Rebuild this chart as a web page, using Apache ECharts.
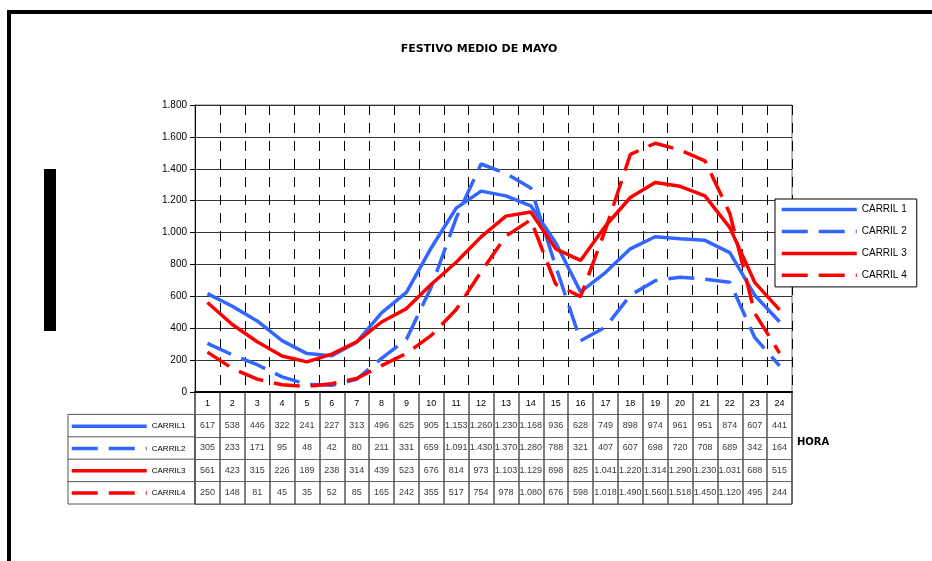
<!DOCTYPE html>
<html><head><meta charset="utf-8">
<script src="https://cdn.jsdelivr.net/npm/echarts@6/dist/echarts.min.js"></script>
<style>html,body{margin:0;padding:0;background:#fff}#c{width:932px;height:561px}</style>
</head><body><div id="c"></div>
<script>
// ---- data ----
const titleText = 'FESTIVO MEDIO DE MAYO';
const xAxisName = 'HORA';
const hours = ['1','2','3','4','5','6','7','8','9','10','11','12','13','14','15','16','17','18','19','20','21','22','23','24'];
const seriesNames = ['CARRIL 1','CARRIL 2','CARRIL 3','CARRIL 4'];
const carril1 = [617,538,446,322,241,227,313,496,625,905,1153,1260,1230,1168,936,628,749,898,974,961,951,874,607,441];
const carril2 = [305,233,171,95,48,42,80,211,331,659,1091,1430,1370,1280,788,321,407,607,698,720,708,689,342,164];
const carril3 = [561,423,315,226,189,238,314,439,523,676,814,973,1103,1129,898,825,1041,1220,1314,1290,1230,1031,688,515];
const carril4 = [250,148,81,45,35,52,85,165,242,355,517,754,978,1080,676,598,1018,1490,1560,1518,1450,1120,495,244];
const yMin = 0, yMax = 1800, yStep = 200;

// ---- helpers ----
const fmt = v => v >= 1000 ? Math.floor(v / 1000) + '.' + String(v % 1000).padStart(3, '0') : String(v);
const BLUE = '#3366FF', RED = '#FF0000';
const FONT = 'Liberation Sans, Arial, sans-serif';
const WIDEFONT = 'DejaVu Sans, sans-serif';
const allSeries = [carril1, carril2, carril3, carril4];
const colors = [BLUE, BLUE, RED, RED];
const dashed = [false, true, false, true];

const G = {left: 195, right: 140, top: 105, bottom: 169};
const tableTop = 392, tableH = 112;
const rowH = tableH / 5;

const chart = echarts.init(document.getElementById('c'), null, {renderer: 'canvas'});

const lineSeries = allSeries.map((d, k) => ({
  name: seriesNames[k], type: 'line', data: d, xAxisIndex: 0, yAxisIndex: 0,
  symbol: 'none', smooth: false, z: 5,
  lineStyle: {color: colors[k], width: 3.5, type: dashed[k] ? [26, 11] : 'solid', cap: 'butt'},
  itemStyle: {color: colors[k]}
}));

const tableSeries = allSeries.map((d, k) => ({
  name: 'tabla' + k, type: 'scatter', xAxisIndex: 1, yAxisIndex: 1, silent: true,
  symbolSize: 0, data: d.map((v, i) => [i, k + 1.5, v]),
  label: {show: true, position: 'inside', formatter: p => fmt(p.value[2]),
          fontSize: 9, color: '#000', fontFamily: FONT}
}));

const tableRowLines = [1, 2, 3].map(r => ({
  type: 'line', shape: {x1: 68, y1: tableTop + rowH * (r + 1), x2: G.left, y2: tableTop + rowH * (r + 1)},
  style: {stroke: '#555', lineWidth: 1}
}));

const legendCommon = {
  selectedMode: false, orient: 'vertical', itemWidth: 75, itemHeight: 14,
  itemStyle: {opacity: 0, borderWidth: 0},
  lineStyle: {width: 3.5}
};

const option = {
  backgroundColor: '#fff',
  animation: false,
  title: {text: titleText, left: 474, top: 39, textAlign: 'center',
          textStyle: {fontSize: 11, fontWeight: 'bold', color: '#000', fontFamily: WIDEFONT}},
  grid: [
    {left: G.left, right: G.right, top: G.top, bottom: G.bottom, show: true, borderColor: '#777', borderWidth: 1, containLabel: false},
    {left: G.left, right: G.right, top: tableTop, height: tableH, show: true, borderColor: '#555', borderWidth: 1, containLabel: false}
  ],
  xAxis: [
    {type: 'category', gridIndex: 0, data: hours, boundaryGap: true,
     axisLine: {show: true, lineStyle: {color: '#000', width: 2}},
     axisTick: {show: false},
     axisLabel: {show: true, fontSize: 9, color: '#000', margin: 7, fontFamily: FONT, interval: 0},
     splitLine: {show: true, interval: 0, lineStyle: {color: '#000', width: 1, type: [10, 8]}}},
    {type: 'category', gridIndex: 1, data: hours, boundaryGap: true,
     axisLine: {show: false}, axisTick: {show: false}, axisLabel: {show: false},
     splitLine: {show: true, interval: 0, lineStyle: {color: '#555', width: 1.5}}}
  ],
  yAxis: [
    {type: 'value', gridIndex: 0, min: yMin, max: yMax, interval: yStep,
     axisLine: {show: true, lineStyle: {color: '#000', width: 1}},
     axisTick: {show: true, length: 5, lineStyle: {color: '#000'}},
     axisLabel: {formatter: v => fmt(v), fontSize: 10, color: '#000', margin: 8, fontFamily: FONT},
     splitLine: {show: true, lineStyle: {color: '#333', width: 1}}},
    {type: 'value', gridIndex: 1, min: 0, max: 5, interval: 1, inverse: true,
     axisLine: {show: false}, axisTick: {show: false}, axisLabel: {show: false},
     splitLine: {show: true, lineStyle: {color: '#666', width: 1}}}
  ],
  legend: [
    Object.assign({}, legendCommon, {
      data: seriesNames, left: 775, top: 199,
      backgroundColor: '#fff', borderColor: '#000', borderWidth: 1, padding: [5, 10, 6, 5],
      itemGap: 10.7, z: 10,
      textStyle: {fontSize: 10, color: '#000', fontFamily: FONT}}),
    Object.assign({}, legendCommon, {
      data: seriesNames, left: 70, top: tableTop + rowH + rowH / 2 - 5,
      padding: 0, itemGap: rowH - 11.3,
      formatter: n => n.replace(' ', ''),
      textStyle: {fontSize: 8, color: '#000', fontFamily: FONT}})
  ],
  graphic: [
    {type: 'rect', shape: {x: 7, y: 10, width: 925, height: 4}, style: {fill: '#000'}},
    {type: 'rect', shape: {x: 7, y: 10, width: 4, height: 551}, style: {fill: '#000'}},
    {type: 'rect', shape: {x: 44, y: 169, width: 12, height: 162}, style: {fill: '#000'}},
    {type: 'rect', shape: {x: 68, y: tableTop + rowH, width: G.left - 68, height: rowH * 4},
     style: {fill: 'none', stroke: '#555', lineWidth: 1}},
    ...tableRowLines,
    {type: 'text', left: 797, top: 437,
     style: {text: xAxisName, fill: '#000', font: 'bold 10px ' + WIDEFONT}}
  ],
  series: [...lineSeries, ...tableSeries]
};
chart.setOption(option);
</script>
</body></html>
